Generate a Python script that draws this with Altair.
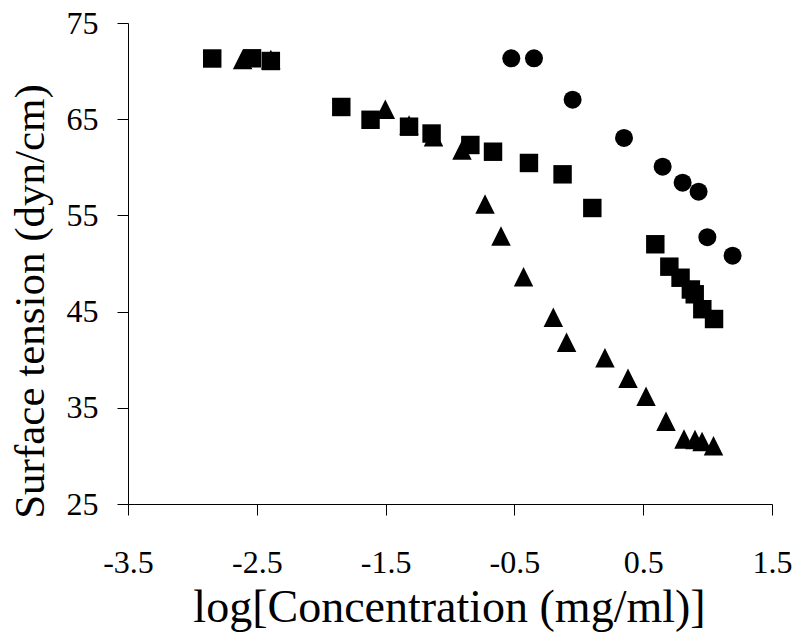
import altair as alt
import pandas as pd

# Circles series
circle_x = [-0.524, -0.348, -0.048, 0.351, 0.651, 0.806, 0.930, 0.998, 1.194]
circle_y = [71.33, 71.33, 67.03, 63.05, 60.06, 58.40, 57.46, 52.73, 50.81]

# Squares series
square_x = [-2.846, -2.537, -2.391, -1.844, -1.617, -1.318, -1.143, -0.842, -0.666,
            -0.387, -0.126, 0.105, 0.594, 0.703, 0.790, 0.870, 0.900, 0.959, 1.050]
square_y = [71.31, 71.33, 71.05, 66.27, 64.94, 64.22, 63.51, 62.32, 61.62,
            60.45, 59.27, 55.77, 52.00, 49.67, 48.52, 47.30, 46.80, 45.25, 44.23]

# Triangles series
triangle_x = [-2.610, -2.391, -1.502, -1.318, -1.128, -0.907, -0.728, -0.604, -0.429,
              -0.198, -0.095, 0.203, 0.382, 0.522, 0.677, 0.817, 0.902, 0.957, 1.046]
triangle_y = [71.20, 71.20, 66.03, 64.40, 63.18, 61.80, 56.19, 52.86, 48.63,
              44.41, 41.82, 40.20, 38.07, 36.20, 33.60, 31.76, 31.70, 31.50, 31.06]

x_ticks = [-3.5, -2.5, -1.5, -0.5, 0.5, 1.5]
y_ticks = [25, 35, 45, 55, 65, 75]

df_c = pd.DataFrame({"x": circle_x, "y": circle_y})
df_s = pd.DataFrame({"x": square_x, "y": square_y})
df_t = pd.DataFrame({"x": triangle_x, "y": triangle_y})

FONT = "Liberation Serif"

x_enc = alt.X(
    "x:Q",
    scale=alt.Scale(domain=[-3.5, 1.5], nice=False, zero=False),
    axis=alt.Axis(
        values=x_ticks,
        labelExpr="(datum.value < 0 ? '-' : '') + format(abs(datum.value), '.1f')",
        title="log[Concentration (mg/ml)]",
        grid=False,
        domainColor="#000000",
        tickColor="#000000",
        tickSize=11,
        labelFont=FONT,
        labelFontSize=32,
        labelColor="#000000",
        labelBaseline="alphabetic",
        labelPadding=57,
        labelFlush=False,
        labelOverlap=False,
        titleFont=FONT,
        titleFontSize=46,
        titleFontWeight="normal",
        titleColor="#000000",
        titleBaseline="alphabetic",
        titleAlign="center",
        titleX=321,
        titleY=117,
    ),
)
y_enc = alt.Y(
    "y:Q",
    scale=alt.Scale(domain=[25, 75], nice=False, zero=False),
    axis=alt.Axis(
        values=y_ticks,
        title="Surface tension (dyn/cm)",
        grid=False,
        domainColor="#000000",
        tickColor="#000000",
        tickSize=11,
        labelFont=FONT,
        labelFontSize=32,
        labelColor="#000000",
        labelPadding=19,
        labelFlush=False,
        labelOverlap=False,
        titleFont=FONT,
        titleFontSize=43,
        titleFontWeight="normal",
        titleColor="#000000",
        titleAngle=270,
        titleBaseline="alphabetic",
        titleAlign="center",
        titleX=-85,
        titleY=278,
    ),
)

tri = alt.Chart(df_t).mark_point(
    shape="M0,-1L1,1L-1,1Z", filled=True, color="#000000", opacity=1, size=380, strokeWidth=0
).encode(x=x_enc, y=y_enc)
sq = alt.Chart(df_s).mark_point(
    shape="square", filled=True, color="#000000", opacity=1, size=340, strokeWidth=0
).encode(x=x_enc, y=y_enc)
ci = alt.Chart(df_c).mark_point(
    shape="circle", filled=True, color="#000000", opacity=1, size=324, strokeWidth=0
).encode(x=x_enc, y=y_enc)

chart = (
    alt.layer(tri, sq, ci)
    .properties(
        width=644,
        height=481,
        autosize=alt.AutoSizeParams(type="none"),
        padding={"left": 120, "top": 15, "right": 20, "bottom": 128},
        background="#ffffff",
    )
    .configure_view(stroke=None)
)

chart.save("out.html", embed_options={"renderer": "svg", "actions": False})
